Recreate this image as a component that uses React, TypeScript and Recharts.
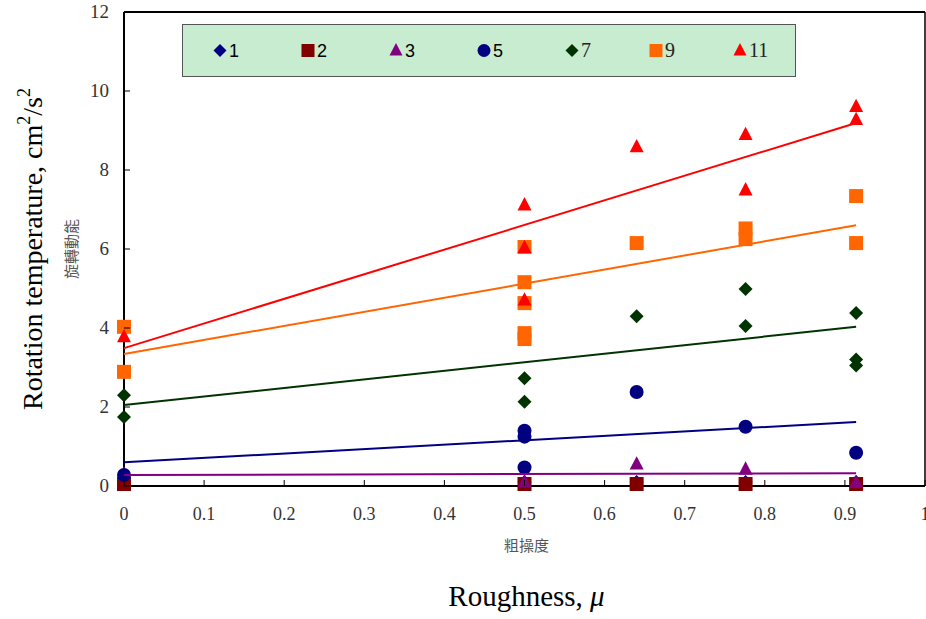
import React from 'react';
import { ScatterChart, Scatter, XAxis, YAxis, ReferenceLine, Legend } from 'recharts';

// Roughness (mu) vs rotation temperature for each group
const series1 = [
  { mu: 0, t: 0.12 }, { mu: 0.5, t: 0.1 }, { mu: 0.64, t: 0.1 }, { mu: 0.776, t: 0.1 }, { mu: 0.914, t: 0.1 },
];
const series2 = [
  { mu: 0, t: 0.05 }, { mu: 0.5, t: 0.05 }, { mu: 0.64, t: 0.05 }, { mu: 0.776, t: 0.05 }, { mu: 0.914, t: 0.05 },
];
const series3 = [
  { mu: 0, t: 0.3 }, { mu: 0.5, t: 0.1 }, { mu: 0.64, t: 0.55 }, { mu: 0.776, t: 0.42 }, { mu: 0.914, t: 0.08 },
];
const series5 = [
  { mu: 0, t: 0.28 }, { mu: 0.5, t: 1.4 }, { mu: 0.5, t: 1.25 }, { mu: 0.5, t: 0.47 },
  { mu: 0.64, t: 2.38 }, { mu: 0.776, t: 1.5 }, { mu: 0.914, t: 0.84 },
];
const series7 = [
  { mu: 0, t: 2.3 }, { mu: 0, t: 1.75 }, { mu: 0.5, t: 2.73 }, { mu: 0.5, t: 2.13 },
  { mu: 0.64, t: 4.3 }, { mu: 0.776, t: 4.99 }, { mu: 0.776, t: 4.05 },
  { mu: 0.914, t: 4.38 }, { mu: 0.914, t: 3.2 }, { mu: 0.914, t: 3.05 },
];
const series9 = [
  { mu: 0, t: 4.03 }, { mu: 0, t: 2.89 }, { mu: 0.5, t: 6.05 }, { mu: 0.5, t: 5.16 },
  { mu: 0.5, t: 4.63 }, { mu: 0.5, t: 3.87 }, { mu: 0.5, t: 3.72 }, { mu: 0.64, t: 6.15 },
  { mu: 0.776, t: 6.52 }, { mu: 0.776, t: 6.25 }, { mu: 0.914, t: 7.34 }, { mu: 0.914, t: 6.15 },
];
const series11 = [
  { mu: 0, t: 3.77 }, { mu: 0.5, t: 7.11 }, { mu: 0.5, t: 6.03 }, { mu: 0.5, t: 4.7 },
  { mu: 0.64, t: 8.58 }, { mu: 0.776, t: 8.89 }, { mu: 0.776, t: 7.49 },
  { mu: 0.914, t: 9.6 }, { mu: 0.914, t: 9.27 },
];

// Linear trend lines (end points)
const trend3 = [{ mu: 0, t: 0.28 }, { mu: 0.914, t: 0.32 }];
const trend5 = [{ mu: 0, t: 0.6 }, { mu: 0.914, t: 1.62 }];
const trend7 = [{ mu: 0, t: 2.05 }, { mu: 0.914, t: 4.03 }];
const trend9 = [{ mu: 0, t: 3.34 }, { mu: 0.914, t: 6.6 }];
const trend11 = [{ mu: 0, t: 3.49 }, { mu: 0.914, t: 9.19 }];

const xTicks = [0, 0.1, 0.2, 0.3, 0.4, 0.5, 0.6, 0.7, 0.8, 0.9, 1];
const yTicks = [0, 2, 4, 6, 8, 10, 12];

const legendNames = ['1', '2', '3', '5', '7', '9', '11'];
const legendColors = ['#000080', '#800000', '#800080', '#000080', '#003300', '#FF6600', '#FF0000'];
const legendShapes = ['diamond', 'square', 'triangle', 'circle', 'diamond', 'square', 'triangle'];
const legendFonts = ['sans', 'sans', 'sans', 'sans', 'serif', 'serif', 'serif'];

const SERIF = '"Liberation Serif", "Times New Roman", serif';
const SANS = '"Liberation Sans", Arial, sans-serif';
const CJK = '"Noto Sans CJK TC", "Noto Sans CJK SC", sans-serif';

function marker(kind: string, cx: number, cy: number, color: string, r: number) {
  if (kind === 'diamond') {
    return <polygon points={`${cx},${cy - r} ${cx + r},${cy} ${cx},${cy + r} ${cx - r},${cy}`} fill={color} />;
  }
  if (kind === 'square') {
    return <rect x={cx - r} y={cy - r} width={2 * r} height={2 * r} fill={color} />;
  }
  if (kind === 'triangle') {
    return <polygon points={`${cx},${cy - r * 1.15} ${cx + r},${cy + r * 0.75} ${cx - r},${cy + r * 0.75}`} fill={color} />;
  }
  return <circle cx={cx} cy={cy} r={r} fill={color} />;
}

const makeShape = (kind: string, color: string) => (props: any) => {
  const { cx, cy } = props;
  if (cx == null || cy == null) return <g />;
  return marker(kind, cx, cy, color, 7);
};

const noShape = () => <g />;

const XTick = (props: any) => {
  const { x, y, payload } = props;
  return (
    <g>
      <line x1={x} y1={y} x2={x} y2={y - 6} stroke="#000" strokeWidth={1} />
      <text x={x} y={y + 34} textAnchor="middle" fontFamily={SERIF} fontSize={18} fill="#333">
        {String(payload.value)}
      </text>
    </g>
  );
};

const YTick = (props: any) => {
  const { x, y, payload } = props;
  return (
    <g>
      <line x1={x} y1={y} x2={x + 6} y2={y} stroke="#000" strokeWidth={1} />
      <text x={x - 15} y={y + 6} textAnchor="end" fontFamily={SERIF} fontSize={19} fill="#333">
        {String(payload.value)}
      </text>
    </g>
  );
};

const YLabel = (props: any) => {
  const vb = props.viewBox || { x: 0, y: 12, width: 124, height: 474 };
  const cy = vb.y + vb.height / 2;
  const bx = vb.x + 42;
  const cx2 = vb.x + 77;
  return (
    <g>
      <text
        x={bx}
        y={cy}
        transform={`rotate(-90, ${bx}, ${cy})`}
        textAnchor="middle"
        fontFamily={SERIF}
        fontSize={28}
        fill="#000"
      >
        Rotation temperature, cm
        <tspan fontSize={18} dy={-12}>2</tspan>
        <tspan dy={12}>/s</tspan>
        <tspan fontSize={18} dy={-12}>2</tspan>
      </text>
      <text
        x={cx2}
        y={cy}
        transform={`rotate(-90, ${cx2}, ${cy})`}
        textAnchor="middle"
        fontFamily={CJK}
        fontSize={15}
        fill="#555"
      >
        旋轉動能
      </text>
    </g>
  );
};

const XLabel = (props: any) => {
  const vb = props.viewBox || { x: 124, y: 486, width: 801, height: 30 };
  const cx = vb.x + vb.width / 2 + 2;
  return (
    <g>
      <text x={cx} y={vb.y + 65} textAnchor="middle" fontFamily={CJK} fontSize={15} fill="#555">
        粗操度
      </text>
      <text x={cx} y={vb.y + 120} textAnchor="middle" fontFamily={SERIF} fontSize={29} fill="#000">
        Roughness, <tspan fontStyle="italic">μ</tspan>
      </text>
    </g>
  );
};

const LegendBox = () => {
  const w = 614;
  const h = 53;
  const xs = [38, 126, 214, 302, 390, 474, 558];
  return (
    <svg width={w} height={h} style={{ display: 'block' }}>
      <rect x={0.5} y={0.5} width={w - 1} height={h - 1} fill="#C8ECCF" stroke="#555" strokeWidth={1} />
      {legendNames.map((n, i) => (
        <g key={n}>
          {marker(legendShapes[i], xs[i], h / 2, legendColors[i], 6.5)}
          <text
            x={xs[i] + 9}
            y={h / 2 + 6.5}
            fontFamily={legendFonts[i] === 'sans' ? SANS : SERIF}
            fontSize={legendFonts[i] === 'sans' ? 18 : 20}
            fill={legendFonts[i] === 'sans' ? '#000' : '#222'}
          >
            {n}
          </text>
        </g>
      ))}
    </svg>
  );
};

export default function App() {
  return (
    <div style={{ position: 'absolute', left: 0, top: 0, width: 926, height: 619, overflow: 'hidden', background: '#fff' }}>
      <ScatterChart width={926} height={619} margin={{ top: 12, right: 1, bottom: 103, left: 0 }}>
        <XAxis
          type="number"
          dataKey="mu"
          domain={[0, 1]}
          ticks={xTicks}
          interval={0}
          height={30}
          tickSize={0}
          tickMargin={0}
          tickLine={false}
          tick={<XTick />}
          axisLine={{ stroke: '#000', strokeWidth: 2 }}
          label={<XLabel />}
        />
        <YAxis
          type="number"
          dataKey="t"
          domain={[0, 12]}
          ticks={yTicks}
          interval={0}
          width={124}
          tickSize={0}
          tickMargin={0}
          tickLine={false}
          tick={<YTick />}
          axisLine={{ stroke: '#000', strokeWidth: 2 }}
          label={<YLabel />}
        />
        <ReferenceLine y={12} stroke="#000" strokeWidth={2} />
        <ReferenceLine x={1} stroke="#000" strokeWidth={1.5} />

        <Scatter name="1" data={series1} shape={makeShape('diamond', '#000080')} isAnimationActive={false} />
        <Scatter name="2" data={series2} shape={makeShape('square', '#800000')} isAnimationActive={false} />
        <Scatter name="3" data={series3} shape={makeShape('triangle', '#800080')} isAnimationActive={false} />
        <Scatter name="5" data={series5} shape={makeShape('circle', '#000080')} isAnimationActive={false} />
        <Scatter name="7" data={series7} shape={makeShape('diamond', '#003300')} isAnimationActive={false} />
        <Scatter name="9" data={series9} shape={makeShape('square', '#FF6600')} isAnimationActive={false} />
        <Scatter name="11" data={series11} shape={makeShape('triangle', '#FF0000')} isAnimationActive={false} />

        <Scatter data={trend3} line={{ stroke: '#800080', strokeWidth: 2 }} shape={noShape} legendType="none" isAnimationActive={false} />
        <Scatter data={trend5} line={{ stroke: '#000080', strokeWidth: 2 }} shape={noShape} legendType="none" isAnimationActive={false} />
        <Scatter data={trend7} line={{ stroke: '#003300', strokeWidth: 2 }} shape={noShape} legendType="none" isAnimationActive={false} />
        <Scatter data={trend9} line={{ stroke: '#FF6600', strokeWidth: 2 }} shape={noShape} legendType="none" isAnimationActive={false} />
        <Scatter data={trend11} line={{ stroke: '#FF0000', strokeWidth: 2 }} shape={noShape} legendType="none" isAnimationActive={false} />

        <Legend
          layout="horizontal"
          verticalAlign="middle"
          align="center"
          content={<LegendBox />}
          wrapperStyle={{ left: 182, top: 24, width: 614, height: 53 }}
        />
      </ScatterChart>
    </div>
  );
}
